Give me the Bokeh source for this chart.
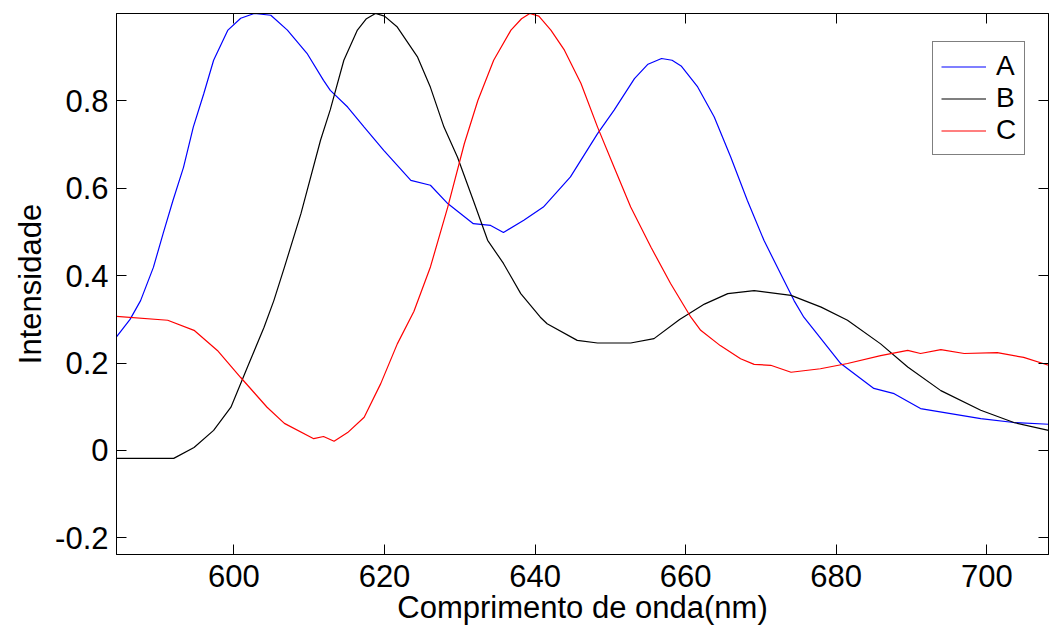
from bokeh.plotting import figure
from bokeh.models import (LinearAxis, FixedTicker, CustomJSTickFormatter, Range1d,
                          Legend, LegendItem)
from bokeh.embed import file_html
from bokeh.resources import INLINE

# ---- data ----
a_nm = [584.4, 586.2, 587.6, 589.3, 590.6, 591.9, 593.3, 594.6, 596.0, 597.3,
        599.2, 600.9, 602.7, 604.9, 607.1, 609.7, 611.9, 612.8, 615.1, 617.3,
        619.9, 623.5, 626.1, 628.4, 631.8, 634.1, 635.8, 638.5, 641.1, 644.7,
        648.3, 650.5, 653.2, 655.0, 656.8, 658.2, 659.4, 661.6, 663.8, 666.0,
        668.2, 670.4, 672.6, 674.4, 675.7, 677.1, 680.6, 685.0, 687.7, 691.2,
        699.2, 703.6, 708.2]
a_int = [0.26, 0.30, 0.343, 0.419, 0.497, 0.572, 0.648, 0.74, 0.817, 0.893,
         0.962, 0.989, 1.0, 0.996, 0.962, 0.909, 0.847, 0.824, 0.786, 0.74,
         0.687, 0.618, 0.607, 0.565, 0.519, 0.515, 0.499, 0.527, 0.557, 0.626,
         0.725, 0.779, 0.851, 0.884, 0.897, 0.893, 0.88, 0.832, 0.763, 0.671,
         0.572, 0.481, 0.405, 0.343, 0.305, 0.275, 0.199, 0.142, 0.130, 0.096,
         0.073, 0.064, 0.060]

b_nm = [584.4, 592.0, 594.7, 597.3, 599.6, 601.8, 604.0, 605.3, 606.7, 608.9,
        611.5, 612.8, 614.6, 616.4, 617.6, 618.8, 620.0, 621.7, 624.4, 626.1,
        627.9, 629.7, 631.8, 633.7, 635.8, 638.1, 640.7, 641.6, 645.6, 648.3,
        652.7, 655.8, 659.2, 662.5, 665.6, 669.1, 674.0, 678.0, 681.5, 685.9,
        689.5, 693.9, 699.2, 703.6, 708.2]
b_int = [-0.018, -0.018, 0.007, 0.046, 0.099, 0.191, 0.282, 0.343, 0.419, 0.542,
         0.71, 0.78, 0.893, 0.962, 0.988, 1.0, 0.994, 0.969, 0.9, 0.831,
         0.74, 0.671, 0.572, 0.481, 0.428, 0.359, 0.305, 0.290, 0.252, 0.246,
         0.246, 0.256, 0.300, 0.335, 0.359, 0.366, 0.355, 0.328, 0.298, 0.244,
         0.191, 0.137, 0.092, 0.064, 0.046]

c_nm = [584.4, 591.2, 594.7, 597.8, 600.9, 604.4, 606.7, 610.6, 611.9, 613.3,
        615.1, 617.3, 619.5, 621.7, 623.9, 626.1, 628.4, 630.6, 632.4, 634.5,
        636.8, 638.2, 639.3, 640.5, 642.1, 643.9, 646.1, 648.3, 650.5, 652.7,
        655.4, 658.0, 660.7, 662.0, 664.6, 667.3, 669.1, 671.3, 674.0, 677.9,
        681.5, 685.9, 689.5, 691.2, 693.9, 697.0, 701.4, 704.9, 708.2]
c_int = [0.307, 0.298, 0.275, 0.229, 0.167, 0.099, 0.062, 0.027, 0.032, 0.021,
         0.041, 0.076, 0.153, 0.244, 0.318, 0.42, 0.557, 0.702, 0.801, 0.893,
         0.962, 0.988, 1.0, 0.994, 0.962, 0.916, 0.84, 0.74, 0.648, 0.557,
         0.465, 0.382, 0.305, 0.275, 0.24, 0.21, 0.197, 0.195, 0.179, 0.187,
         0.199, 0.217, 0.229, 0.222, 0.231, 0.222, 0.224, 0.213, 0.195]

series_names = ["A", "B", "C"]
x_ticks = [600, 620, 640, 660, 680, 700]
y_ticks = [-0.2, 0, 0.2, 0.4, 0.6, 0.8]

FONT = "Liberation Sans"
FS = "31px"

p = figure(width=1049, height=632,
           x_range=Range1d(584.4, 708.2), y_range=Range1d(-0.238, 1.0),
           output_backend="svg", toolbar_location=None,
           min_border_left=116, min_border_right=1, min_border_top=13,
           min_border_bottom=78, x_axis_label="Comprimento de onda(nm)",
           y_axis_label="Intensidade")
p.background_fill_color = "white"
p.border_fill_color = "white"
p.outline_line_color = "black"
p.outline_line_width = 1
p.xgrid.visible = False
p.ygrid.visible = False

fmt = CustomJSTickFormatter(code="return String(Number(tick.toFixed(2)));")
blank = CustomJSTickFormatter(code="return '';")

for ax in p.xaxis:
    ax.ticker = FixedTicker(ticks=x_ticks)
for ax in p.yaxis:
    ax.ticker = FixedTicker(ticks=y_ticks)
    ax.formatter = fmt

for ax in list(p.xaxis) + list(p.yaxis):
    ax.major_tick_in = 10
    ax.major_tick_out = 0
    ax.minor_tick_in = 0
    ax.minor_tick_out = 0
    ax.axis_line_color = "black"
    ax.major_tick_line_color = "black"
    ax.major_label_text_font = FONT
    ax.major_label_text_font_size = FS
    ax.major_label_text_color = "black"
    ax.axis_label_text_font = FONT
    ax.axis_label_text_font_size = FS
    ax.axis_label_text_font_style = "normal"
    ax.axis_label_text_color = "black"
p.xaxis.major_label_standoff = 10
p.xaxis.axis_label_standoff = 0
p.yaxis.major_label_standoff = 8
p.yaxis.axis_label_standoff = 4

# box ticks on top and right (no labels)
top = LinearAxis(ticker=FixedTicker(ticks=x_ticks), formatter=blank,
                 major_tick_in=10, major_tick_out=0,
                 minor_tick_in=0, minor_tick_out=0, major_label_text_font_size="1px",
                 major_label_standoff=0, axis_line_color="black")
right = LinearAxis(ticker=FixedTicker(ticks=y_ticks), formatter=blank,
                   major_tick_in=10, major_tick_out=0,
                   minor_tick_in=0, minor_tick_out=0, major_label_text_font_size="1px",
                   major_label_standoff=0, axis_line_color="black")
p.add_layout(top, "above")
p.add_layout(right, "right")

r_a = p.line(a_nm, a_int, line_color="#0000ff", line_width=1.2)
r_b = p.line(b_nm, b_int, line_color="#000000", line_width=1.2)
r_c = p.line(c_nm, c_int, line_color="#ff0000", line_width=1.2)

legend = Legend(items=[LegendItem(label=series_names[0], renderers=[r_a]),
                       LegendItem(label=series_names[1], renderers=[r_b]),
                       LegendItem(label=series_names[2], renderers=[r_c])],
                location=(816, 399))
legend.label_text_font = FONT
legend.label_text_font_size = "28px"
legend.label_text_color = "black"
legend.label_height = 27
legend.glyph_height = 27
legend.glyph_width = 45
legend.label_standoff = 10
legend.spacing = -3
legend.padding = 8
legend.margin = 0
legend.border_line_color = "black"
legend.border_line_width = 1
legend.background_fill_alpha = 1.0
p.add_layout(legend)

open("out.html", "w").write(file_html(p, INLINE))
